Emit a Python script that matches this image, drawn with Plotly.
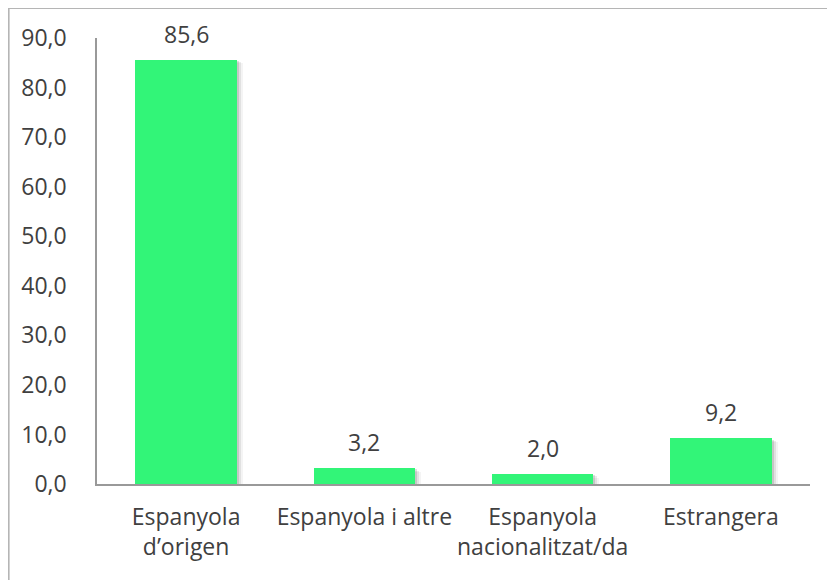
import plotly.graph_objects as go

categories = ["Espanyola<br>d’origen", "Espanyola i altre", "Espanyola<br>nacionalitzat/da", "Estrangera"]
values = [85.6, 3.2, 2.0, 9.2]
labels = ["85,6", "3,2", "2,0", "9,2"]
tick_vals = [0, 10, 20, 30, 40, 50, 60, 70, 80, 90]
tick_text = ["0,0", "10,0", "20,0", "30,0", "40,0", "50,0", "60,0", "70,0", "80,0", "90,0"]

# page body has an 8px margin, so the figure is sized to fill the rest of the window
W, H = 827, 572
L, R, T, B = 89, 25, 30, 96
plot_w = W - L - R
plot_h = H - T - B
px_per_cat = plot_w / len(categories)
bar_w = 0.57
FONT = "Open Sans"
TXT = "#404040"

fig = go.Figure()

# soft drop shadow layers
for k, op in [(6, 0.06), (4, 0.10), (2, 0.16)]:
    dx = k / px_per_cat
    fig.add_trace(go.Bar(
        x=list(range(len(categories))), y=values,
        width=bar_w, offset=-bar_w / 2 + dx,
        base=[-k * 0.6 * 90 / plot_h] * len(values),
        marker=dict(color=f"rgba(60,60,60,{op})", line=dict(width=0)),
        hoverinfo="skip", showlegend=False,
    ))

fig.add_trace(go.Bar(
    x=list(range(len(categories))), y=values,
    width=bar_w,
    marker=dict(color="#32F578", line=dict(width=0)),
    showlegend=False,
))

for i, (v, t) in enumerate(zip(values, labels)):
    fig.add_annotation(x=i, y=v, text=t, showarrow=False, yanchor="middle",
                       yshift=26, font=dict(family=FONT, size=23, color=TXT))

fig.update_layout(
    width=W, height=H,
    margin=dict(l=L, r=R, t=T, b=B, pad=0),
    paper_bgcolor="white", plot_bgcolor="white",
    barmode="overlay", bargap=0,
    font=dict(family=FONT, size=23, color=TXT),
    xaxis=dict(
        tickmode="array", tickvals=list(range(len(categories))), ticktext=categories,
        range=[-0.5, len(categories) - 0.5],
        showline=True, linecolor="#999999", linewidth=1.5,
        showgrid=False, zeroline=False, ticks="", ticklabelstandoff=12,
        tickfont=dict(family=FONT, size=23, color=TXT),
    ),
    yaxis=dict(
        range=[0, 90], tickmode="array", tickvals=tick_vals, ticktext=tick_text,
        showline=True, linecolor="#999999", linewidth=1.5,
        showgrid=False, zeroline=False, ticks="", ticklabelstandoff=24,
        tickfont=dict(family=FONT, size=23, color=TXT),
    ),
    shapes=[dict(
        type="rect", xref="paper", yref="paper",
        x0=(0.8 - L) / plot_w, x1=(W + 20 - L) / plot_w,
        y0=-(B + 20) / plot_h, y1=(plot_h + T - 0.3) / plot_h,
        line=dict(color="#b5b5b5", width=1.6), layer="below",
    )],
)

fig.write_html("out.html")
